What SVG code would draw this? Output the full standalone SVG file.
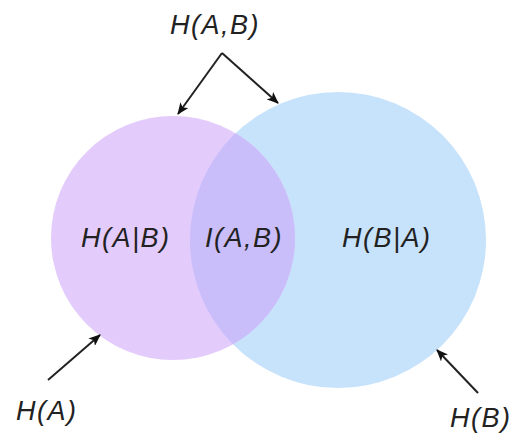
<svg xmlns="http://www.w3.org/2000/svg" width="521" height="435" viewBox="0 0 521 435">
<style>
.lbl{font-family:"Liberation Sans",Arial,sans-serif;font-style:italic;font-size:27px;fill:#222;letter-spacing:1.5px}
.arr{stroke:#222;stroke-width:2;fill:none;marker-end:url(#ah)}
</style>
<defs>
<marker id="ah" viewBox="0 0 12 10" refX="11" refY="5" markerWidth="6" markerHeight="5" markerUnits="strokeWidth" orient="auto">
<path d="M0,0 L12,5 L0,10 L3,5 Z" fill="#111"/>
</marker>
<clipPath id="clipA"><circle cx="173" cy="238" r="122"/></clipPath>
</defs>
<rect width="521" height="435" fill="#fff"/>
<g id="circleB"><circle cx="338" cy="240" r="148" fill="#c7e3fb"/></g>
<g id="circleA"><circle cx="173" cy="238" r="122" fill="#e3cbfb"/></g>
<g id="intersection"><circle cx="338" cy="240" r="148" fill="#c9bdfa" clip-path="url(#clipA)"/></g>
<g id="labels">
<text class="lbl" x="81" y="247">H(A|B)</text>
<text class="lbl" x="205" y="247">I(A,B)</text>
<text class="lbl" x="342" y="247">H(B|A)</text>
<text class="lbl" x="170" y="34">H(A,B)</text>
<text class="lbl" x="16" y="420">H(A)</text>
<text class="lbl" x="450" y="427" letter-spacing="0.5">H(B)</text>
</g>
<g id="connectors">
<path class="arr" d="M222,53 L178,114"/>
<path class="arr" d="M222,53 L278,103"/>
<path class="arr" d="M48,380 L100,335"/>
<path class="arr" d="M478,393 L437,350"/>
</g>
</svg>
